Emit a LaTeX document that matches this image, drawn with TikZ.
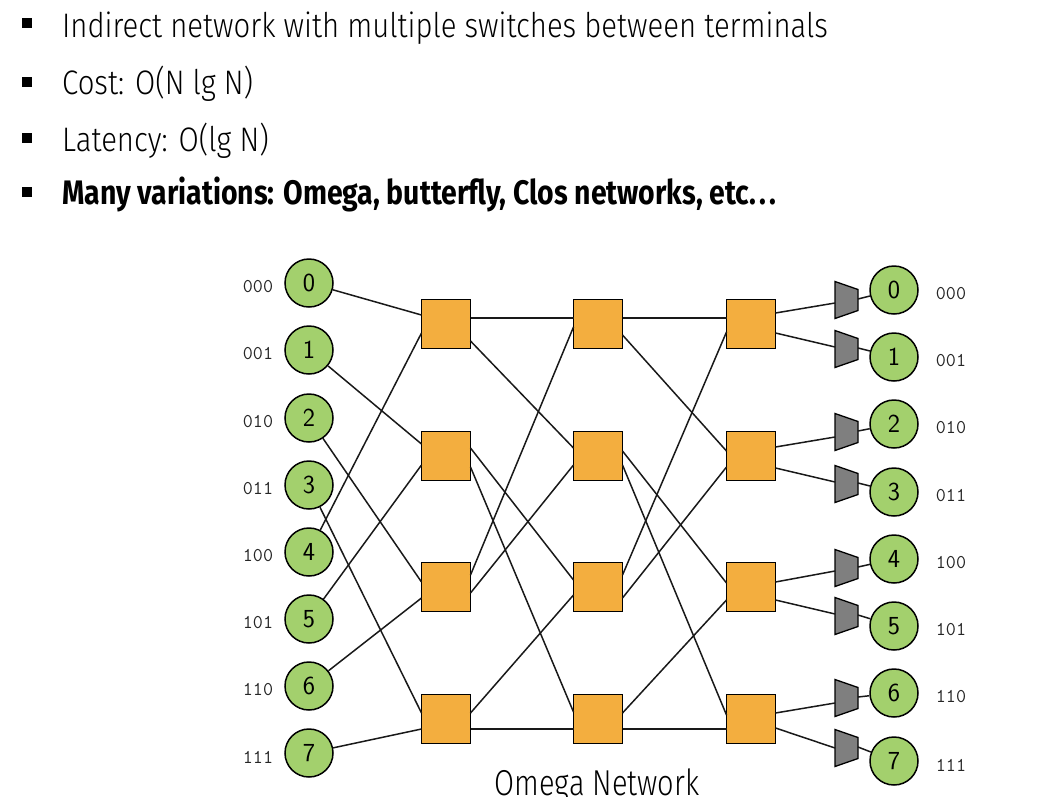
\documentclass[tikz,border=0pt]{standalone}
\usepackage{fontspec}
\IfFontExistsTF{Fira Sans Light}{%
  \setmainfont{Fira Sans Light}[BoldFont={Fira Sans Bold},FakeStretch=0.862,BoldFeatures={FakeStretch=0.835}]%
  \newfontfamily\titlefont{Fira Sans Light}[FakeStretch=0.805]%
}{%
  \setmainfont{Fira Sans}[FakeStretch=0.82]%
  \newfontfamily\titlefont{Fira Sans}[FakeStretch=0.77]%
}
\usetikzlibrary{calc}
\definecolor{termgreen}{HTML}{A3D06D}
\definecolor{sworange}{HTML}{F3AE3F}
\definecolor{trapgray}{HTML}{7F7F7F}
\begin{document}
\begin{tikzpicture}[x=1pt,y=-1pt,
  term/.style={circle,draw=black,line width=1.5pt,fill=termgreen,minimum size=48pt,inner sep=0pt,font=\sffamily\fontsize{26}{26}\selectfont},
  sw/.style={rectangle,draw=black,line width=1.5pt,fill=sworange,minimum size=49pt,inner sep=0pt,outer sep=0pt},
  addr/.style={font=\ttfamily\fontsize{19.5}{19.5}\selectfont,text=black!85,inner sep=0pt},
  wire/.style={line width=1.5pt,draw=black!90},
  trap/.style={draw=black,line width=1.3pt,fill=trapgray},
  bul/.style={fill=black,minimum size=10pt,inner sep=0pt},
  txt/.style={anchor=base west,inner sep=0pt,font=\fontsize{34}{40}\selectfont}]
\useasboundingbox (0,0) rectangle (1058,796);

% bullet list
\node[bul] (b1) at (27,23) {};
\node[bul] (b2) at (27,82) {};
\node[bul] (b3) at (27,138) {};
\node[bul] (b4) at (27,192) {};
\node[txt] (t1) at (62,37) {Indirect network with multiple switches between terminals};
\node[txt] (t2) at (62,94) {Cost: O(N lg N)};
\node[txt] (t3) at (62,151) {Latency: O(lg N)};
\node[txt,font=\bfseries\fontsize{34}{40}\selectfont] (t4) at (62,204) {Many variations: Omega, butterfly, Clos networks, etc.\kern3pt.\kern3pt.};

% input terminals
\foreach \i/\y/\b in {0/283/000,1/350/001,2/418/010,3/485/011,4/552/100,5/619/101,6/686/110,7/753/111}{
  \node[term] (L\i) at (309,\y) {\raisebox{-3pt}{\i}};
  \node[addr] (la\i) at (258,\y+4) {\b};
}
% output terminals
\foreach \i/\y/\b in {0/290/000,1/357/001,2/424/010,3/492/011,4/559/100,5/626/101,6/693/110,7/761/111}{
  \node[term] (R\i) at (894,\y) {\raisebox{-3pt}{\i}};
  \node[addr] (ra\i) at (951,\y+4) {\b};
}
% switches
\foreach \c/\x in {A/446,B/598,C/751}{
  \foreach \r/\y in {0/324,1/456,2/587,3/719}{
    \node[sw] (\c\r) at (\x,\y) {};
  }
}
% output buffers (trapezoids)
\foreach \k/\t in {0/300,1/349,2/432,3/484,4/568,5/616,6/698,7/748}{
  \coordinate (T\k) at (846.5,\t);
  \draw[trap] ($(T\k)+(-11.5,-18.5)$) -- ($(T\k)+(11.5,-10.5)$) -- ($(T\k)+(11.5,10.5)$) -- ($(T\k)+(-11.5,18.5)$) -- cycle;
}

% input stage
\draw[wire] (L0) -- ($(A0.west)+(0,-9)$);
\draw[wire] (L4) -- ($(A0.west)+(0,9)$);
\draw[wire] (L1) -- ($(A1.west)+(0,-12)$);
\draw[wire] (L5) -- ($(A1.west)+(0,9)$);
\draw[wire] (L2) -- ($(A2.west)+(0,-5)$);
\draw[wire] (L6) -- ($(A2.west)+(0,11)$);
\draw[wire] (L3) -- ($(A3.west)+(0,-6)$);
\draw[wire] (L7) -- ($(A3.west)+(0,10)$);

% stage 1 -> 2
\draw[wire] ($(A0.east)+(0,-6)$) -- ($(B0.west)+(0,-6)$);
\draw[wire] ($(A0.east)+(0,17)$) -- ($(B1.west)+(0,-8)$);
\draw[wire] ($(A1.east)+(0,-8)$) -- ($(B2.west)+(0,-7)$);
\draw[wire] ($(A1.east)+(0,11)$) -- ($(B3.west)+(0,-7)$);
\draw[wire] ($(A2.east)+(0,-12)$) -- ($(B0.west)+(0,3)$);
\draw[wire] ($(A2.east)+(0,6)$) -- ($(B1.west)+(0,9)$);
\draw[wire] ($(A3.east)+(0,-6)$) -- ($(B2.west)+(0,8)$);
\draw[wire] ($(A3.east)+(0,10)$) -- ($(B3.west)+(0,10)$);

% stage 2 -> 3
\draw[wire] ($(B0.east)+(0,-6)$) -- ($(C0.west)+(0,-6)$);
\draw[wire] ($(B0.east)+(0,11)$) -- ($(C1.west)+(0,-5)$);
\draw[wire] ($(B1.east)+(0,-5)$) -- ($(C2.west)+(0,-4)$);
\draw[wire] ($(B1.east)+(0,9)$) -- ($(C3.west)+(0,-4)$);
\draw[wire] ($(B2.east)+(0,-12)$) -- ($(C0.west)+(0,8)$);
\draw[wire] ($(B2.east)+(0,11)$) -- ($(C1.west)+(0,11)$);
\draw[wire] ($(B3.east)+(0,-6)$) -- ($(C2.west)+(0,13)$);
\draw[wire] ($(B3.east)+(0,10)$) -- ($(C3.west)+(0,10)$);

% stage 3 -> buffers
\draw[wire] ($(C0.east)+(0,-11)$) -- ($(T0)+(-11.5,3)$);
\draw[wire] ($(C0.east)+(0,9)$) -- ($(T1)+(-11.5,-2)$);
\draw[wire] ($(C1.east)+(0,-9)$) -- ($(T2)+(-11.5,5)$);
\draw[wire] ($(C1.east)+(0,12)$) -- ($(T3)+(-11.5,-2)$);
\draw[wire] ($(C2.east)+(0,-5)$) -- ($(T4)+(-11.5,3)$);
\draw[wire] ($(C2.east)+(0,13)$) -- ($(T5)+(-11.5,-2)$);
\draw[wire] ($(C3.east)+(0,-6)$) -- ($(T6)+(-11.5,5)$);
\draw[wire] ($(C3.east)+(0,9)$) -- ($(T7)+(-11.5,0)$);

% buffers -> output terminals
\foreach \k in {0,...,7}{
  \draw[wire] ($(T\k)+(11.5,-1)$) -- (R\k);
}

\node[anchor=base,inner sep=0pt,font=\titlefont\fontsize{36}{40}\selectfont] (title) at (597,795) {Omega Network};
\end{tikzpicture}
\end{document}
